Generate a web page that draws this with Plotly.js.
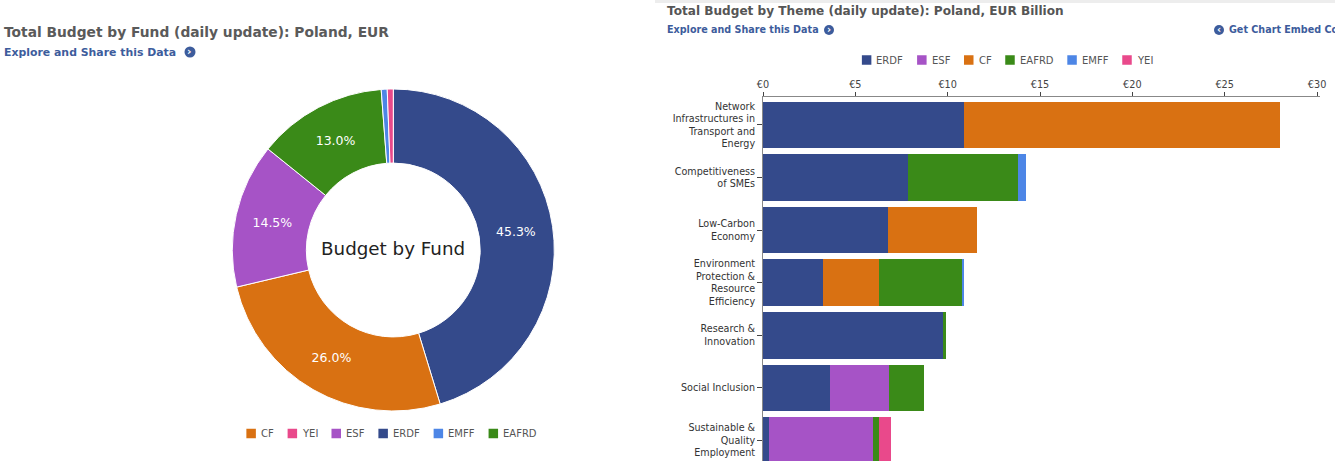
<!DOCTYPE html>
<html><head><meta charset="utf-8">
<script src="https://cdn.plot.ly/plotly-3.0.1.min.js"></script>
<style>html,body{margin:0;padding:0;background:#fff;overflow:hidden}</style>
</head><body><div id="chart" style="width:1335px;height:461px"></div>
<script>
// ---------- data ----------
const funds = ['ERDF', 'ESF', 'CF', 'EAFRD', 'EMFF', 'YEI'];
const fundColors = ['#344a8b', '#a653c6', '#d97112', '#3a8a18', '#4d86e6', '#e9498b'];

const pieLabels = ['ERDF', 'CF', 'ESF', 'EAFRD', 'EMFF', 'YEI'];
const pieShares = [45.3, 26.0, 14.5, 13.0, 0.6, 0.6];
const pieLegendOrder = ['CF', 'YEI', 'ESF', 'ERDF', 'EMFF', 'EAFRD'];

const themes = [
  'Network<br>Infrastructures in<br>Transport and<br>Energy',
  'Competitiveness<br>of SMEs',
  'Low-Carbon<br>Economy',
  'Environment<br>Protection &<br>Resource<br>Efficiency',
  'Research &<br>Innovation',
  'Social Inclusion',
  'Sustainable &<br>Quality<br>Employment'
];
const erdfVals  = [10.88, 7.85, 6.77, 3.23, 9.73, 3.61, 0.31];
const esfVals   = [null, null, null, null, null, 3.19, 5.63];
const cfVals    = [17.11, null, 4.82, 3.03, null, null, null];
const eafrdVals = [null, 5.96, null, 4.49, 0.18, 1.91, 0.36];
const emffVals  = [null, 0.43, null, 0.16, null, null, null];
const yeiVals   = [null, null, null, null, null, null, 0.63];
const barSeries = [erdfVals, esfVals, cfVals, eafrdVals, emffVals, yeiVals];

const xTickVals = [0, 5, 10, 15, 20, 25, 30];
const xTickText = xTickVals.map(v => '€' + v);

// ---------- helpers ----------
const W = 1335, H = 461;
const px = x => x / W;
const py = y => 1 - y / H;
const colorOf = name => fundColors[funds.indexOf(name)];
const FONT = 'DejaVu Sans';
const linkColor = '#3d5c9c';

const traces = [];
traces.push({
  type: 'pie',
  labels: pieLabels,
  values: pieShares,
  sort: false,
  direction: 'clockwise',
  rotation: 0,
  hole: 0.54,
  domain: {x: [px(232.3), px(554.3)], y: [py(411), py(89)]},
  marker: {colors: pieLabels.map(colorOf), line: {color: '#ffffff', width: 1}},
  texttemplate: '%{percent:.1%}',
  textposition: pieShares.map(v => v >= 3 ? 'inside' : 'none'),
  insidetextorientation: 'horizontal',
  textfont: {family: FONT, size: 12.5, color: '#ffffff'},
  showlegend: false,
  hoverinfo: 'skip'
});
funds.forEach((f, i) => {
  traces.push({
    type: 'bar',
    orientation: 'h',
    name: f,
    y: themes,
    x: barSeries[i],
    marker: {color: fundColors[i], line: {width: 0}},
    showlegend: false,
    hoverinfo: 'skip'
  });
});

const shapes = [];
const annotations = [];

function addText(x, y, text, size, color, bold, anchor) {
  annotations.push({
    xref: 'paper', yref: 'paper', x: px(x), y: py(y), text: bold ? '<b>' + text + '</b>' : text,
    showarrow: false, xanchor: anchor || 'left', yanchor: 'middle', borderpad: 0,
    font: {family: FONT, size: size, color: color}
  });
}
function addIcon(cx, cy, r, glyph) {
  shapes.push({type: 'circle', xref: 'paper', yref: 'paper', x0: px(cx - r), x1: px(cx + r),
    y0: py(cy + r), y1: py(cy - r), fillcolor: linkColor, line: {width: 0}});
  annotations.push({xref: 'paper', yref: 'paper', x: px(cx), y: py(cy - 0.5), text: '<b>' + glyph + '</b>',
    showarrow: false, xanchor: 'center', yanchor: 'middle', borderpad: 0,
    font: {family: FONT, size: r * 2, color: '#ffffff'}});
}
function addLegend(names, cx, cy) {
  const ctx = document.createElement('canvas').getContext('2d');
  const size = 10;
  ctx.font = size + 'px "' + FONT + '"';
  const sq = 9.5, gapText = 4, gapItem = 15;
  const widths = names.map(n => ctx.measureText(n).width);
  const total = widths.reduce((a, w) => a + sq + gapText + w, 0) + gapItem * (names.length - 1);
  let x = cx - total / 2;
  names.forEach((n, i) => {
    shapes.push({type: 'rect', xref: 'paper', yref: 'paper', x0: px(x), x1: px(x + sq),
      y0: py(cy + sq / 2), y1: py(cy - sq / 2), fillcolor: colorOf(n), line: {width: 0}});
    addText(x + sq + gapText, cy, n, size, '#555555', false, 'left');
    x += sq + gapText + widths[i] + gapItem;
  });
}

// header strip
shapes.push({type: 'rect', xref: 'paper', yref: 'paper', x0: px(655), x1: 1, y0: py(3), y1: 1,
  fillcolor: '#ededed', line: {width: 0}, layer: 'below'});

// titles and links
addText(3, 32, 'Total Budget by Fund (daily update): Poland, EUR', 13.8, '#5a5a5a', true);
addText(3, 52, 'Explore and Share this Data', 10.9, linkColor, true);
addIcon(190, 52, 5.5, '›');
addText(666, 11, 'Total Budget by Theme (daily update): Poland, EUR Billion', 12.1, '#555555', true);
addText(666, 30, 'Explore and Share this Data', 9.6, linkColor, true);
addIcon(829, 30, 5, '›');
addIcon(1219, 30, 5, '‹');
addText(1228, 30, 'Get Chart Embed Code', 9.6, linkColor, true);

// donut center text
addText(393, 248, 'Budget by Fund', 18.3, '#222222', false, 'center');

// legends
addLegend(pieLegendOrder, 391, 433.5);
addLegend(funds, 1006.5, 60);

const layout = {
  width: W, height: H,
  margin: {l: 0, r: 0, t: 0, b: 0, pad: 0},
  paper_bgcolor: '#ffffff', plot_bgcolor: '#ffffff',
  showlegend: false,
  barmode: 'stack',
  bargap: 0.114,
  font: {family: FONT, color: '#333333'},
  xaxis: {
    domain: [px(763), px(1320)], side: 'top', range: [0, 30.16],
    tickmode: 'array', tickvals: xTickVals, ticktext: xTickText,
    showline: true, linecolor: '#888888', linewidth: 1,
    ticks: 'outside', ticklen: 4, tickcolor: '#444444',
    showgrid: false, zeroline: false,
    tickfont: {family: FONT, size: 9.7, color: '#444444'}, fixedrange: true
  },
  yaxis: {
    domain: [0, py(97)], type: 'category', range: [6.39, -0.532],
    showline: true, linecolor: '#888888', linewidth: 1,
    ticks: 'outside', ticklen: 5, tickcolor: '#444444',
    showgrid: false, zeroline: false,
    tickfont: {family: FONT, size: 9.6, color: '#333333'}, fixedrange: true
  },
  shapes: shapes,
  annotations: annotations
};

Plotly.newPlot('chart', traces, layout, {staticPlot: true, displayModeBar: false});
</script>
</body></html>
